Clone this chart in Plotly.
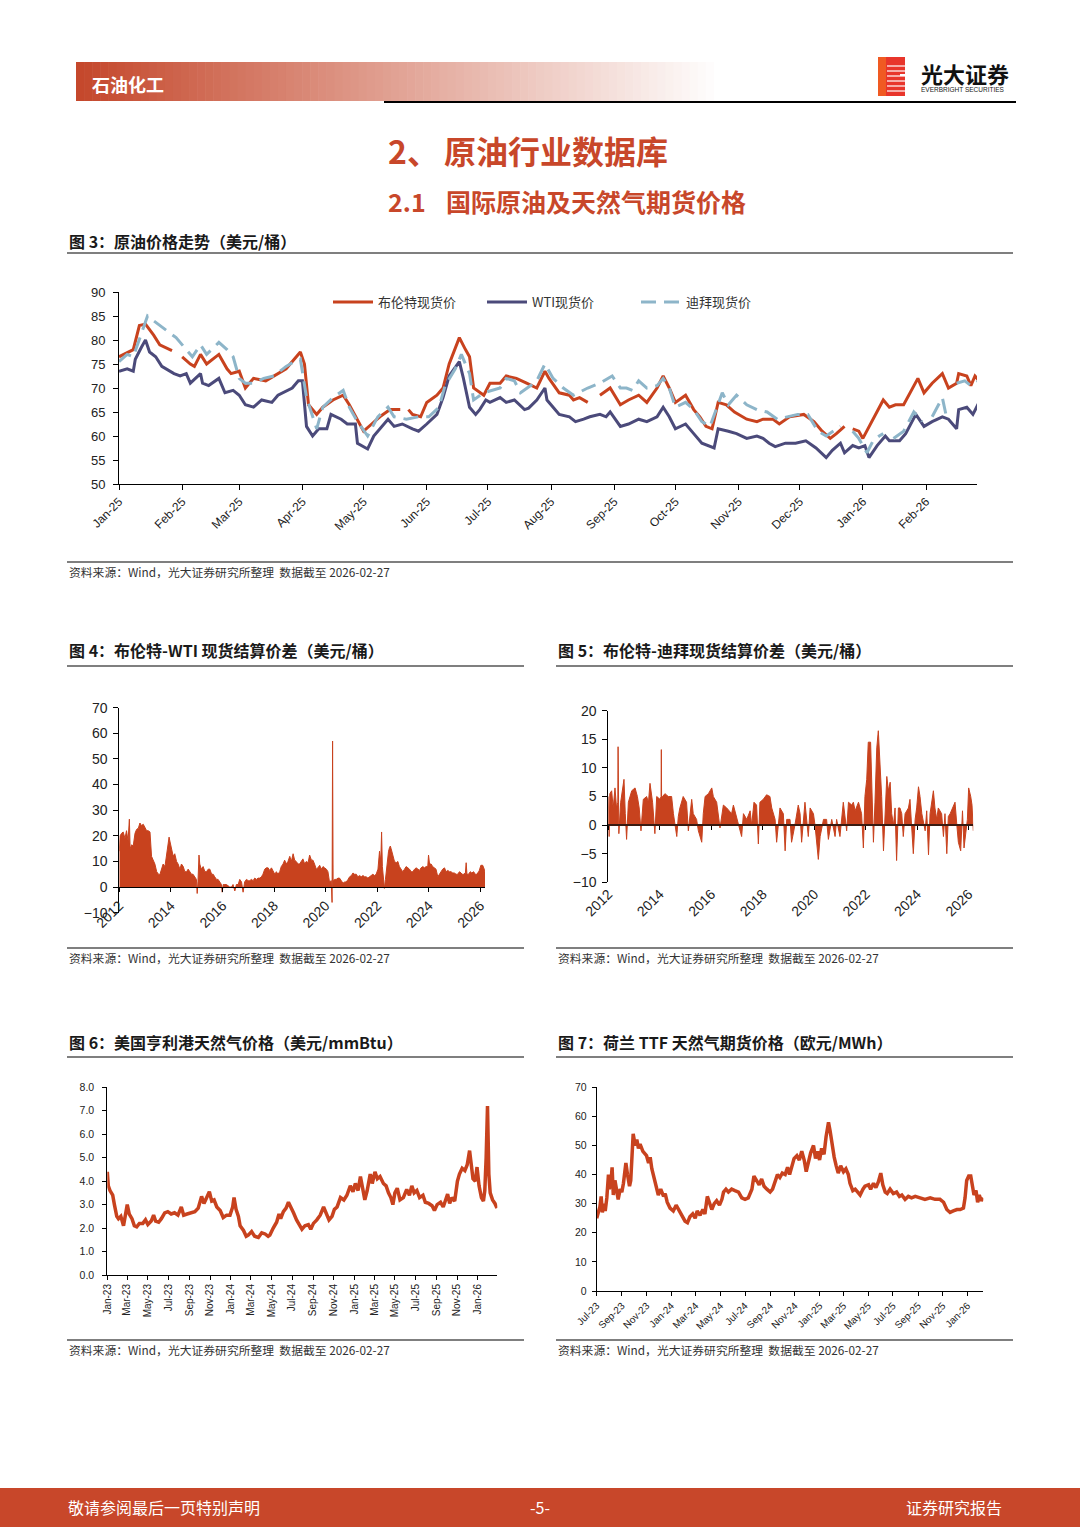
import plotly.graph_objects as go
import pandas as pd

# ---------------- data: 图3 原油价格走势 ----------------
brent_x = ["2025-01-01","2025-01-06","2025-01-08","2025-01-11","2025-01-14","2025-01-18","2025-01-21","2025-01-27","2025-01-29",
           "2025-02-01","2025-02-05","2025-02-07","2025-02-10","2025-02-13","2025-02-19","2025-02-23","2025-02-25",
           "2025-03-01","2025-03-04","2025-03-08","2025-03-14","2025-03-24","2025-03-28","2025-03-31",
           "2025-04-02","2025-04-04","2025-04-08","2025-04-11","2025-04-16","2025-04-21","2025-04-24","2025-04-27",
           "2025-05-01","2025-05-05","2025-05-09","2025-05-14","2025-05-19","2025-05-21","2025-05-23","2025-05-25","2025-05-29",
           "2025-06-01","2025-06-06","2025-06-09","2025-06-12","2025-06-17","2025-06-20","2025-06-22","2025-06-24","2025-06-29",
           "2025-07-02","2025-07-07","2025-07-10","2025-07-15","2025-07-20","2025-07-25","2025-07-29","2025-07-31",
           "2025-08-05","2025-08-10","2025-08-12","2025-08-15","2025-08-19","2025-08-21","2025-08-25","2025-08-30",
           "2025-09-04","2025-09-08","2025-09-13","2025-09-17","2025-09-22","2025-09-25","2025-09-28",
           "2025-10-01","2025-10-06","2025-10-10","2025-10-13","2025-10-16","2025-10-19","2025-10-22","2025-10-26","2025-10-30",
           "2025-11-05","2025-11-10","2025-11-13","2025-11-18","2025-11-21","2025-11-26",
           "2025-12-03","2025-12-08","2025-12-12","2025-12-16","2025-12-19","2025-12-23","2025-12-25","2025-12-27","2025-12-30",
           "2026-01-01","2026-01-04","2026-01-08","2026-01-11","2026-01-14","2026-01-17","2026-01-21","2026-01-24","2026-01-28","2026-01-31",
           "2026-02-04","2026-02-09","2026-02-12","2026-02-16","2026-02-17","2026-02-21","2026-02-23","2026-02-25","2026-02-27"]
brent_y = [76.5,77.5,78.0,83.0,83.3,81.0,79.0,77.8,None,
           76.5,75.0,74.5,77.0,75.0,77.0,74.0,73.0,
           73.5,70.0,72.0,71.5,74.0,76.0,77.5,
           75.0,66.5,64.5,66.0,67.5,68.5,66.5,64.0,
           61.0,62.5,64.0,65.5,65.5,None,65.5,64.5,64.0,
           67.0,68.5,70.0,75.0,80.5,78.0,76.5,70.0,68.5,
           71.0,71.0,72.5,72.0,71.0,70.0,73.5,72.0,
           69.0,68.5,67.5,68.0,67.0,None,68.5,70.0,
           66.5,67.5,68.5,67.0,70.0,72.5,70.0,
           67.0,68.5,65.5,64.0,62.0,61.5,67.0,66.5,65.0,
           63.5,63.0,63.5,63.5,62.5,64.0,
           64.5,63.0,61.0,59.5,60.5,62.0,None,61.5,61.0,
           59.5,62.0,65.0,67.5,66.0,66.5,66.5,69.0,72.0,69.0,
           71.0,73.0,70.0,71.0,73.0,72.5,70.5,72.5,71.5]

wti_x = ["2025-01-01","2025-01-05","2025-01-08","2025-01-09","2025-01-12","2025-01-14","2025-01-16","2025-01-19","2025-01-22","2025-01-28","2025-01-31",
         "2025-02-03","2025-02-05","2025-02-10","2025-02-11","2025-02-14","2025-02-19","2025-02-22","2025-02-26",
         "2025-03-01","2025-03-04","2025-03-08","2025-03-12","2025-03-17","2025-03-20","2025-03-27","2025-03-30",
         "2025-04-01","2025-04-03","2025-04-06","2025-04-09","2025-04-13","2025-04-15","2025-04-20","2025-04-23","2025-04-27","2025-04-28",
         "2025-05-03","2025-05-06","2025-05-10","2025-05-13","2025-05-16","2025-05-20","2025-05-25","2025-05-28",
         "2025-06-01","2025-06-06","2025-06-09","2025-06-12","2025-06-17","2025-06-19","2025-06-22","2025-06-25","2025-06-27","2025-06-30",
         "2025-07-02","2025-07-07","2025-07-10","2025-07-14","2025-07-19","2025-07-21","2025-07-25","2025-07-29","2025-07-30",
         "2025-08-01","2025-08-05","2025-08-10","2025-08-13","2025-08-17","2025-08-20","2025-08-25","2025-08-28","2025-08-30",
         "2025-09-04","2025-09-08","2025-09-13","2025-09-17","2025-09-22","2025-09-25","2025-09-28",
         "2025-10-01","2025-10-06","2025-10-10","2025-10-14","2025-10-20","2025-10-22","2025-10-27","2025-10-31",
         "2025-11-05","2025-11-10","2025-11-13","2025-11-16","2025-11-19","2025-11-24","2025-11-29",
         "2025-12-04","2025-12-09","2025-12-14","2025-12-17","2025-12-21","2025-12-23","2025-12-27","2025-12-30",
         "2026-01-02","2026-01-04","2026-01-08","2026-01-12","2026-01-14","2026-01-19","2026-01-22","2026-01-27","2026-01-31",
         "2026-02-04","2026-02-09","2026-02-12","2026-02-16","2026-02-17","2026-02-21","2026-02-24","2026-02-27"]
wti_y = [73.5,74.0,73.5,76.0,78.5,80.0,77.5,76.5,74.5,73.0,72.5,
         73.0,71.0,73.0,71.0,70.5,72.0,69.0,69.5,
         68.5,66.5,66.0,67.5,67.0,68.5,70.0,71.5,
         71.5,62.0,60.0,61.5,61.5,64.5,63.5,62.5,62.5,58.5,
         57.3,60.0,62.0,63.5,62.0,62.5,61.5,61.0,
         62.5,64.5,68.0,72.5,75.5,72.0,66.0,64.5,65.5,67.5,
         67.0,68.0,67.0,67.5,65.5,65.8,67.5,70.0,67.5,
         66.5,64.5,64.0,63.0,63.5,64.0,64.5,64.0,65.0,
         62.0,62.5,63.5,63.0,64.0,66.0,64.0,
         61.5,62.5,60.5,58.5,57.5,61.5,61.0,60.5,
         59.5,60.0,59.5,58.5,57.8,58.5,58.5,
         59.0,57.5,55.5,57.0,58.5,56.5,58.0,57.5,
         58.0,55.5,58.0,60.0,59.0,59.0,60.5,64.5,62.0,
         63.0,64.0,63.5,61.5,65.5,66.0,64.5,67.0]

dubai_x = ["2025-01-01","2025-01-05","2025-01-08","2025-01-11","2025-01-15","2025-01-18","2025-01-21","2025-01-24","2025-01-29",
           "2025-02-03","2025-02-06","2025-02-10","2025-02-13","2025-02-19","2025-02-23","2025-02-26",
           "2025-03-01","2025-03-04","2025-03-08","2025-03-13","2025-03-18","2025-03-24","2025-03-28","2025-03-31",
           "2025-04-03","2025-04-08","2025-04-11","2025-04-16","2025-04-21","2025-04-24","2025-04-28",
           "2025-05-03","2025-05-08","2025-05-13","2025-05-16","2025-05-22","2025-05-28",
           "2025-06-02","2025-06-07","2025-06-10","2025-06-15","2025-06-18","2025-06-22","2025-06-24","2025-06-29",
           "2025-07-07","2025-07-10","2025-07-14","2025-07-17","2025-07-22","2025-07-25","2025-07-29",
           "2025-08-02","2025-08-07","2025-08-12","2025-08-19","2025-08-25","2025-08-31",
           "2025-09-04","2025-09-07","2025-09-10","2025-09-13","2025-09-17","2025-09-22","2025-09-25","2025-09-28",
           "2025-10-01","2025-10-06","2025-10-10","2025-10-14","2025-10-18","2025-10-24","2025-10-27","2025-10-31",
           "2025-11-05","2025-11-10","2025-11-15","2025-11-20","2025-11-25","2025-11-30",
           "2025-12-05","2025-12-10","2025-12-14","2025-12-21","2025-12-24","2025-12-27","2025-12-30",
           "2026-01-03","2026-01-06","2026-01-09","2026-01-11","2026-01-13","2026-01-16","2026-01-21","2026-01-26","2026-01-30",
           "2026-02-02","2026-02-04","2026-02-09","2026-02-11","2026-02-13","2026-02-16","2026-02-20","2026-02-23","2026-02-27"]
dubai_y = [75.5,77.0,76.5,80.0,85.0,84.0,83.0,82.0,80.5,
           78.0,76.5,79.0,77.0,79.5,78.0,76.5,
           72.0,71.0,71.0,72.0,72.5,74.5,75.5,76.0,
           68.0,61.5,66.0,68.0,69.5,66.0,63.0,
           60.0,64.0,66.0,64.0,63.5,64.0,
           64.0,66.0,70.5,74.0,77.0,73.0,67.5,69.0,
           70.0,72.0,71.5,69.0,70.5,71.5,75.0,
           72.0,70.0,68.5,70.0,71.0,72.5,
           70.0,70.0,69.5,71.5,70.0,70.5,72.0,70.0,
           66.0,67.0,65.5,63.0,62.0,69.0,66.5,68.5,
           66.5,65.5,65.0,63.5,64.0,64.5,
           64.5,61.0,60.0,62.0,None,61.0,59.5,
           56.5,59.0,60.0,60.5,None,59.5,61.0,65.0,63.0,
           None,64.0,68.0,64.0,None,71.0,71.5,70.5,71.5]

# ---------------- data: 图4 布伦特-WTI 价差 ----------------
bw_year = [2012.00,2012.03,2012.09,2012.15,2012.22,2012.28,2012.34,2012.39,2012.42,2012.48,2012.54,2012.61,2012.67,2012.74,2012.80,2012.86,2012.93,
           2013.00,2013.06,2013.12,2013.19,2013.25,2013.32,2013.38,2013.45,2013.52,2013.57,2013.64,2013.70,2013.77,2013.83,2013.88,2013.93,2013.96,
           2014.03,2014.09,2014.15,2014.22,2014.28,2014.35,2014.41,2014.48,2014.54,2014.61,2014.67,2014.74,2014.80,2014.86,2014.92,2014.99,
           2015.02,2015.05,2015.09,2015.12,2015.18,2015.25,2015.32,2015.38,2015.45,2015.51,2015.58,2015.64,2015.70,2015.77,2015.83,2015.90,2015.96,2015.99,
           2016.03,2016.09,2016.15,2016.22,2016.28,2016.35,2016.41,2016.48,2016.54,2016.61,2016.67,2016.74,2016.80,2016.86,2016.93,
           2017.00,2017.06,2017.12,2017.19,2017.25,2017.32,2017.38,2017.45,2017.51,2017.57,2017.64,2017.70,2017.77,2017.83,2017.90,2017.96,
           2018.03,2018.09,2018.15,2018.22,2018.28,2018.35,2018.41,2018.48,2018.54,2018.61,2018.67,2018.74,2018.80,2018.86,2018.93,2018.99,
           2019.06,2019.12,2019.19,2019.25,2019.32,2019.38,2019.45,2019.51,2019.57,2019.64,2019.70,2019.77,2019.83,2019.90,2019.96,
           2020.03,2020.09,2020.15,2020.22,2020.25,2020.27,2020.29,2020.35,2020.41,2020.48,2020.54,2020.61,2020.67,2020.74,2020.80,2020.87,2020.93,
           2021.00,2021.06,2021.12,2021.19,2021.25,2021.32,2021.38,2021.45,2021.51,2021.57,2021.64,2021.70,2021.77,2021.83,2021.90,2021.96,
           2022.03,2022.09,2022.14,2022.17,2022.20,2022.24,2022.28,2022.32,2022.38,2022.44,2022.48,2022.51,2022.54,2022.61,2022.67,2022.74,2022.80,2022.86,2022.93,2022.99,
           2023.06,2023.12,2023.19,2023.25,2023.32,2023.38,2023.45,2023.51,2023.58,2023.64,2023.70,2023.77,2023.83,2023.90,2023.96,2023.99,
           2024.03,2024.09,2024.15,2024.22,2024.28,2024.35,2024.41,2024.48,2024.54,2024.61,2024.67,2024.74,2024.80,2024.86,2024.93,2024.99,
           2025.06,2025.12,2025.19,2025.25,2025.30,2025.35,2025.42,2025.45,2025.48,2025.54,2025.61,2025.67,2025.74,2025.80,2025.87,2025.93,2025.96,
           2026.02,2026.09,2026.15,2026.18]
bw_val = [14,20,21,21.5,19,22,18,26.5,15,16.5,16,21,22.5,23,25,24,24.5,
          23,22,22,21.5,12,10,9,6,5,4.8,7,9,8,12,16,19.5,18,
          15,12,13,10,9,7,9,8,6,6,7,6,5,5,4,3,
          -2.5,2,12.5,9,7,8,6,6,7,7,5,5,4,3,3,2,1,-2,
          1,1,1,0.5,0,0,1,-1.5,1,1,3,2,-2,2,3,
          2.5,2.5,3,2.5,3.5,3,3.5,3.5,4,5,7,7.5,7.5,6.5,7.5,6,
          5,6,5,6,8,9,10.5,9,10,12,10,13,10.5,10,9,9,
          10,11,9,10,9.5,12.5,10.5,10.5,9,7,7.5,8.5,7,8,7.5,
          7,6,2,2.5,-6,57,2.5,3,3,3.5,3.5,2.5,1.5,2,2,3,4,
          4.5,5.5,5,5,4,4.5,4,4.5,4,4,3.5,4,4.5,5,4.5,5,
          7,14,10,21.5,8,2,-0.5,3,10,14,15.5,16,15,12,10,9.5,10,8,7,6,
          7,8,7.5,7,6,6,7,7.5,7,6.5,7.5,8,7.5,8,8,12.5,
          9,9,8,7.5,7,4,5,6,7,7.5,6,6.5,6,6,5.5,5.5,
          5,5,6,5.5,5,5,5.5,9.5,5,5,6,5.5,6,5,5,6,6.5,
          8.5,8.5,7,6]

# ---------------- data: 图5 布伦特-迪拜 价差 ----------------
bd_year = [2012.00,2012.03,2012.06,2012.13,2012.19,2012.26,2012.32,2012.37,2012.38,2012.39,2012.41,2012.48,2012.56,2012.61,2012.66,2012.71,2012.78,2012.85,2012.91,
           2013.04,2013.13,2013.20,2013.27,2013.36,2013.49,2013.56,2013.62,2013.72,2013.81,2013.88,
           2014.01,2014.05,2014.06,2014.07,2014.11,2014.20,2014.33,2014.46,2014.53,2014.59,2014.66,2014.72,2014.78,2014.91,
           2015.04,2015.11,2015.24,2015.30,2015.43,2015.50,2015.56,2015.63,2015.69,2015.76,2015.89,
           2016.02,2016.08,2016.21,2016.34,2016.47,2016.60,2016.79,2016.86,2016.92,
           2017.05,2017.18,2017.25,2017.38,2017.51,2017.57,2017.66,2017.76,2017.83,2017.89,
           2018.02,2018.15,2018.28,2018.35,2018.48,2018.54,2018.67,2018.80,2018.87,2018.93,
           2019.06,2019.12,2019.25,2019.38,2019.45,2019.51,2019.64,2019.71,2019.77,2019.84,2019.97,
           2020.03,2020.10,2020.16,2020.23,2020.36,2020.48,2020.55,2020.68,2020.81,2020.87,
           2021.00,2021.13,2021.20,2021.26,2021.33,2021.46,2021.52,2021.59,2021.72,2021.84,2021.91,2021.97,
           2022.04,2022.10,2022.19,2022.26,2022.30,2022.36,2022.43,2022.49,2022.56,2022.62,2022.69,2022.75,2022.82,2022.88,2022.95,
           2023.01,2023.08,2023.14,2023.20,2023.27,2023.33,2023.40,2023.46,2023.53,2023.66,2023.72,2023.85,2023.92,2023.98,
           2024.05,2024.11,2024.18,2024.31,2024.37,2024.44,2024.50,2024.63,2024.69,2024.76,2024.82,2024.95,
           2025.02,2025.08,2025.15,2025.21,2025.28,2025.41,2025.47,2025.54,2025.60,2025.69,2025.76,2025.82,2025.89,2025.95,
           2026.00,2026.08,2026.13,2026.18]
bd_val = [5,-2,5.5,6,3,6.5,3,4,13.7,3,-1.5,4,6,8,2,-2.5,4,5,6,
          6.5,5,3,-1,4.5,5,4,7.3,4,-1.5,5,
          4.5,5,13.2,5,5,5.5,5,5,2,0,-2,1.5,3,5,
          4,-1,4.5,2,1,-1,-2,-3,2,5,5.5,
          6.5,5,4,-0.5,3.5,3,2,3.5,2.5,
          0.5,-2,2,1,2.5,0,4,3.5,-3.3,4,
          4.5,5.3,5,3,1,-3,3,2,-4.5,1,
          1,-3,0,3.5,2,-3,4,1,-2,3,2,
          0,-3,-6,-2,1,1,-2.5,1,-2,1,
          -2,4,1,-1,4,3.5,4,2.5,4,2,-4,5,
          8,14.5,14.5,4,-3,4,13.5,16.5,10,5,-4.5,2,8.5,6,7.5,
          2,0,3,-6.2,3,3,2,-2,2,3,4.5,-5,1,3,
          6.7,5,2,-1,2.5,-5.2,2,6,3,1,3,2,
          -2,2,-5,1.5,2,3.5,4,0,-3,-4.5,2.5,-4,-1,1,
          6.5,5,3.5,-1]
spread_ticks = [2012, 2014, 2016, 2018, 2020, 2022, 2024, 2026]

# ---------------- data: 图6 美国亨利港天然气价格 ----------------
hh_x = ["2023-01-01","2023-01-04","2023-01-09","2023-01-17","2023-01-22","2023-01-29","2023-02-03","2023-02-10","2023-02-18","2023-02-25",
        "2023-03-01","2023-03-07","2023-03-15","2023-03-22","2023-03-29","2023-04-06","2023-04-16","2023-04-24","2023-05-01","2023-05-11",
        "2023-05-18","2023-05-24","2023-06-02","2023-06-10","2023-06-20","2023-06-29","2023-07-09","2023-07-19","2023-07-29","2023-08-08",
        "2023-08-15","2023-08-25","2023-09-07","2023-09-17","2023-09-27","2023-10-07","2023-10-14","2023-10-22","2023-10-30","2023-11-06",
        "2023-11-13","2023-11-21","2023-12-01","2023-12-10","2023-12-20","2023-12-30","2024-01-07","2024-01-11","2024-01-17","2024-01-24",
        "2024-01-29","2024-02-08","2024-02-16","2024-02-22","2024-03-03","2024-03-12","2024-03-23","2024-04-02","2024-04-12","2024-04-21",
        "2024-04-26","2024-05-06","2024-05-16","2024-05-23","2024-05-28","2024-06-05","2024-06-13","2024-06-20","2024-06-27","2024-07-05",
        "2024-07-14","2024-07-24","2024-07-30","2024-08-08","2024-08-18","2024-08-25","2024-09-02","2024-09-12","2024-09-22","2024-10-02",
        "2024-10-12","2024-10-18","2024-10-27","2024-11-03","2024-11-11","2024-11-21","2024-12-01","2024-12-10","2024-12-20","2024-12-28",
        "2025-01-04","2025-01-12","2025-01-19","2025-01-24","2025-02-01","2025-02-08","2025-02-17","2025-02-23","2025-03-03","2025-03-10",
        "2025-03-18","2025-03-28","2025-04-05","2025-04-12","2025-04-19","2025-04-25","2025-05-01","2025-05-08","2025-05-16","2025-05-26",
        "2025-06-05","2025-06-13","2025-06-20","2025-06-27","2025-07-05","2025-07-13","2025-07-23","2025-07-30","2025-08-09","2025-08-19",
        "2025-08-26","2025-09-03","2025-09-13","2025-09-21","2025-09-28","2025-10-04","2025-10-10","2025-10-17","2025-10-25","2025-11-02",
        "2025-11-08","2025-11-16","2025-11-24","2025-12-01","2025-12-08","2025-12-13","2025-12-18","2025-12-25","2025-12-30","2026-01-05",
        "2026-01-12","2026-01-18","2026-01-22","2026-01-26","2026-01-30","2026-02-03","2026-02-07","2026-02-14","2026-02-21","2026-02-27"]
hh_y = [4.4,3.8,3.6,3.4,3.0,2.5,2.4,2.5,2.1,2.6,
        3.0,2.6,2.4,2.1,2.05,2.2,2.2,2.35,2.15,2.3,
        2.55,2.3,2.25,2.4,2.65,2.7,2.6,2.65,2.55,2.9,
        2.55,2.6,2.65,2.7,2.85,3.35,3.05,3.3,3.55,3.15,
        3.2,2.9,2.75,2.45,2.55,2.55,2.9,3.3,2.8,2.5,
        2.1,1.9,1.65,1.7,1.85,1.65,1.6,1.8,1.75,1.65,
        1.7,2.0,2.25,2.6,2.4,2.7,2.85,3.1,2.85,2.65,
        2.35,2.1,1.95,2.1,2.15,1.95,2.2,2.35,2.55,2.9,
        2.55,2.35,2.5,2.8,2.9,3.3,3.2,3.4,3.8,3.55,
        3.9,3.6,4.2,3.8,3.2,3.6,4.3,3.9,4.4,4.1,
        4.2,3.9,3.8,3.5,3.3,3.0,3.5,3.7,3.2,3.3,
        3.65,3.4,3.8,3.5,3.6,3.3,3.4,3.1,3.05,2.95,
        2.75,3.0,3.1,2.9,3.2,3.45,3.05,3.3,3.15,4.0,
        4.3,4.55,4.45,4.7,5.3,4.6,4.1,4.0,4.6,3.8,
        3.3,3.15,3.6,5.0,7.2,4.3,3.5,3.2,3.05,2.85]

# ---------------- data: 图7 荷兰 TTF 天然气期货价格 ----------------
TTF_START = "2023-07-17"
ttf_day = [0,4,8,11,14,18,21,25,29,31,35,38,41,45,49,53,58,62,66,72,76,81,84,86,90,95,99,103,107,114,
           119,123,128,132,136,140,146,152,158,165,169,174,181,189,196,202,210,218,224,230,237,243,248,255,262,267,273,278,284,290,
           296,303,309,313,319,325,333,341,350,358,366,374,383,388,395,401,407,413,420,428,434,440,446,452,458,465,471,476,481,487,
           494,500,506,512,517,522,528,535,540,545,550,555,561,566,572,576,580,586,591,596,602,609,615,621,625,632,638,643,650,657,
           662,671,676,683,689,695,701,706,712,717,724,732,740,747,753,761,769,777,786,798,810,823,835,847,856,864,872,880,889,897,
           905,909,913,918,923,928,931,936,940,944,949,954]
ttf_val = [25,27,29,32.5,27,30,27.5,32,40,35,37,42.5,33,38,34,31.5,35,34,37,44,40,36,38,45,54,50,52,49,50.5,48,
           47,46.5,44,46,42,40,36,33,35,32.5,33.5,30.5,28.5,27.5,29.5,28,26,24,23.5,25.5,26.5,25,27.5,26,28,26.5,32.5,30,28,30,
           31,29.5,31.5,34,35,34,35,34.5,34,32,31.5,32,35,39.5,38,36.5,38.5,36,35,34,35,38,40,39,40.5,40,42.5,40,43,45.5,
           46.5,45,48,45,41,44,47.5,50,45.5,48,45,49,47,53,58,55,51,46,43,40.5,43,41,42,40,37,34.5,35,34,33,35,
           36,36.5,35,37,35.5,37.5,40.5,36.5,34,33.5,35,33.5,34,32.5,33,31.5,32.5,32,32.5,32,31.5,32,31.5,31.5,30.5,28,27,27.5,28,28,
           28.5,32,38,39.5,39.5,35.5,33,34.5,30.5,33,31,32]

# ---------------- styling ----------------
W, H = 1080, 1527
def px(x): return x / W
def py(y): return 1 - y / H

RED = "#C8421E"
NAVY = "#4B4A7A"
LBLUE = "#8DB5C9"
TRED = "#C8472A"
CJK = "Noto Sans CJK SC"
LAT = "Liberation Sans, Arial, Noto Sans CJK SC"

fig = go.Figure()

# Chart 3
fig.add_trace(go.Scatter(x=brent_x, y=brent_y, name="布伦特现货价", mode="lines",
                         line=dict(color=RED, width=3), xaxis="x", yaxis="y", connectgaps=False))
fig.add_trace(go.Scatter(x=wti_x, y=wti_y, name="WTI现货价", mode="lines",
                         line=dict(color=NAVY, width=3), xaxis="x", yaxis="y"))
fig.add_trace(go.Scatter(x=dubai_x, y=dubai_y, name="迪拜现货价", mode="lines",
                         line=dict(color=LBLUE, width=3, dash="15px,8px"), xaxis="x", yaxis="y", connectgaps=False))
# Chart 4
fig.add_trace(go.Scatter(x=bw_year, y=bw_val, mode="lines", fill="tozeroy", fillcolor=RED,
                         line=dict(color=RED, width=1), xaxis="x2", yaxis="y2", showlegend=False))
fig.add_trace(go.Scatter(x=[2012], y=[None], mode="lines", xaxis="x6", yaxis="y2", showlegend=False, hoverinfo="skip"))
# Chart 5
fig.add_trace(go.Scatter(x=bd_year, y=bd_val, mode="lines", fill="tozeroy", fillcolor=RED,
                         line=dict(color=RED, width=1), xaxis="x3", yaxis="y3", showlegend=False))
fig.add_trace(go.Scatter(x=[2012], y=[None], mode="lines", xaxis="x7", yaxis="y3", showlegend=False, hoverinfo="skip"))
# Chart 6
fig.add_trace(go.Scatter(x=hh_x, y=hh_y, mode="lines", line=dict(color=RED, width=3.5),
                         xaxis="x4", yaxis="y4", showlegend=False))
# Chart 7
ttf_x = [pd.Timestamp(TTF_START) + pd.Timedelta(days=d) for d in ttf_day]
fig.add_trace(go.Scatter(x=ttf_x, y=ttf_val, mode="lines", line=dict(color=RED, width=3.5),
                         xaxis="x5", yaxis="y5", showlegend=False))

base_ax = dict(showgrid=False, zeroline=False, showline=True, linecolor="black", linewidth=1,
               ticks="outside", ticklen=5, tickcolor="black", automargin=False)

def ax(**kw):
    d = dict(base_ax)
    d.update(kw)
    return d

y4_dom = [py(912.7), py(707.7)]
y5_dom = [py(882.3), py(710.7)]
zero4 = y4_dom[0] + (0 - (-10)) / 80 * (y4_dom[1] - y4_dom[0])
zero5 = y5_dom[0] + (0 - (-10)) / 30 * (y5_dom[1] - y5_dom[0])

fig.update_layout(
    template="none",
    width=W, height=H, margin=dict(l=0, r=0, t=0, b=0, pad=0, autoexpand=False),
    paper_bgcolor="white", plot_bgcolor="white",
    font=dict(family=LAT, color="#222"),
    showlegend=True,
    legend=dict(orientation="h", x=px(328), y=py(302), xanchor="left", yanchor="middle",
                font=dict(family=CJK, size=13, color="#333"), bgcolor="rgba(0,0,0,0)",
                entrywidth=99, entrywidthmode="pixels", itemwidth=40),
    xaxis=ax(domain=[px(119), px(977)], anchor="y", type="date",
             range=["2025-01-01", "2026-02-26"], tick0="2025-01-01", dtick="M1",
             tickformat="%b-%y", tickangle=-45, tickfont=dict(family=LAT, size=12)),
    yaxis=ax(domain=[py(484), py(292)], anchor="x", range=[50, 90], dtick=5,
             ticklabelstandoff=5, tickfont=dict(family=LAT, size=13)),
    xaxis2=dict(domain=[px(119.3), px(485)], anchor="y2", range=[2012, 2026.18],
                showticklabels=False, showgrid=False, zeroline=False, showline=False, ticks="",
                automargin=False),
    xaxis6=dict(overlaying="x2", anchor="free", position=zero4, range=[2012, 2026.18],
                tickvals=spread_ticks, ticktext=[str(v) for v in spread_ticks], tickangle=-45,
                tickfont=dict(family=LAT, size=14), showgrid=False, zeroline=False, automargin=False,
                showline=True, linecolor="black", linewidth=1, ticks="outside", ticklen=4, tickcolor="black"),
    yaxis2=ax(domain=y4_dom, anchor="x2", range=[-10, 70], dtick=10, ticklabelstandoff=3,
              tickfont=dict(family=LAT, size=14)),
    xaxis3=dict(domain=[px(608.3), px(973.3)], anchor="y3", range=[2012, 2026.18],
                tickvals=spread_ticks, ticktext=[str(v) for v in spread_ticks], tickangle=-45,
                showgrid=False, zeroline=False, showline=False, ticks="", automargin=False,
                tickfont=dict(family=LAT, size=14)),
    xaxis7=dict(overlaying="x3", anchor="free", position=zero5, range=[2012, 2026.18],
                tickvals=spread_ticks, showticklabels=False, showgrid=False, zeroline=False, automargin=False,
                showline=True, linecolor="#3a1a10", linewidth=1.5, ticks="outside", ticklen=4, tickcolor="black"),
    yaxis3=ax(domain=y5_dom, anchor="x3", range=[-10, 20], dtick=5, ticklabelstandoff=3,
              tickfont=dict(family=LAT, size=14)),
    xaxis4=ax(domain=[px(107.3), px(497.3)], anchor="y4", type="date",
              range=["2023-01-01", "2026-02-28"], tick0="2023-01-01", dtick="M2",
              tickformat="%b-%y", tickangle=-90, ticklen=4, tickfont=dict(family=LAT, size=10)),
    yaxis4=ax(domain=[py(1275), py(1087.3)], anchor="x4", range=[0, 8], dtick=1, tickformat=".1f",
              ticklen=4, ticklabelstandoff=6, tickfont=dict(family=LAT, size=10.5)),
    xaxis5=ax(domain=[px(596.7), px(983.3)], anchor="y5", type="date",
              range=["2023-07-17", "2026-02-25"], tick0="2023-07-17", dtick="M2",
              tickformat="%b-%y", tickangle=-45, ticklen=4, tickfont=dict(family=LAT, size=10)),
    yaxis5=ax(domain=[py(1291), py(1087.3)], anchor="x5", range=[0, 70], dtick=10,
              ticklen=4, ticklabelstandoff=3, tickfont=dict(family=LAT, size=10.5)),
)

shapes = []
# header gradient bar
x0, x1 = 76, 722
n = 80
c0 = (197, 72, 44)
for i in range(n):
    t = i / (n - 1)
    r = int(c0[0] + (255 - c0[0]) * t)
    g = int(c0[1] + (255 - c0[1]) * t)
    b = int(c0[2] + (255 - c0[2]) * t)
    xa = x0 + (x1 - x0) * i / n
    xb = x0 + (x1 - x0) * (i + 1) / n + 0.6
    shapes.append(dict(type="rect", xref="paper", yref="paper", x0=px(xa), x1=px(xb), y0=py(101), y1=py(62),
                       fillcolor=f"rgb({r},{g},{b})", line=dict(width=0), layer="below"))
# header black rule
shapes.append(dict(type="line", xref="paper", yref="paper", x0=px(384), x1=px(1016), y0=py(102), y1=py(102),
                   line=dict(color="black", width=2)))
# logo block
shapes.append(dict(type="rect", xref="paper", yref="paper", x0=px(878), x1=px(905), y0=py(96), y1=py(57),
                   fillcolor="#E8352B", line=dict(width=0)))
shapes.append(dict(type="rect", xref="paper", yref="paper", x0=px(878), x1=px(886), y0=py(96), y1=py(57),
                   fillcolor="#F05A22", line=dict(width=0)))
for yy in [66, 71, 76, 81, 86, 91]:
    shapes.append(dict(type="line", xref="paper", yref="paper", x0=px(887), x1=px(905), y0=py(yy), y1=py(yy),
                       line=dict(color="white", width=1.2)))
shapes.append(dict(type="rect", xref="paper", yref="paper", x0=px(900), x1=px(906), y0=py(76), y1=py(74),
                   fillcolor="white", line=dict(width=0)))
# chart title rules and source rules
for (xa, xb, yy) in [(67, 1013, 253), (67, 1013, 562),
                     (67, 524, 666), (556, 1013, 666), (67, 524, 948), (556, 1013, 948),
                     (67, 524, 1057), (556, 1013, 1057), (67, 524, 1340), (556, 1013, 1340)]:
    shapes.append(dict(type="line", xref="paper", yref="paper", x0=px(xa), x1=px(xb), y0=py(yy), y1=py(yy),
                       line=dict(color="#555555", width=1.5)))
# footer bar
shapes.append(dict(type="rect", xref="paper", yref="paper", x0=0, x1=1, y0=0, y1=py(1488),
                   fillcolor="#C8472A", line=dict(width=0)))
fig.update_layout(shapes=shapes)

ann = []
def text(x, y, s, size, color="#222", anchor="left", bold=False, family=CJK):
    ann.append(dict(xref="paper", yref="paper", x=px(x), y=py(y), text=s, showarrow=False,
                    xanchor=anchor, yanchor="middle",
                    font=dict(family=family, size=size, color=color, weight="bold" if bold else "normal")))

text(90, 84, "石油化工", 18, "white", bold=True)
text(919, 73, "光大证券", 22, "#111", bold=True)
text(919, 90, "EVERBRIGHT SECURITIES", 6.5, "#222", family=LAT)
text(386, 150, "2、", 32, TRED, bold=True)
text(442, 150, "原油行业数据库", 32, TRED, bold=True)
text(386, 201, "2.1", 25, TRED, bold=True)
text(444, 201, "国际原油及天然气期货价格", 25, TRED, bold=True)

text(67, 241, "图 3：原油价格走势（美元/桶）", 16, "#1a1a1a", bold=True)
text(67, 650, "图 4：布伦特-WTI 现货结算价差（美元/桶）", 16, "#1a1a1a", bold=True)
text(556, 650, "图 5：布伦特-迪拜现货结算价差（美元/桶）", 16, "#1a1a1a", bold=True)
text(67, 1042, "图 6：美国亨利港天然气价格（美元/mmBtu）", 16, "#1a1a1a", bold=True)
text(556, 1042, "图 7：荷兰 TTF 天然气期货价格（欧元/MWh）", 16, "#1a1a1a", bold=True)

src = "资料来源：Wind，光大证券研究所整理  数据截至 2026-02-27"
for (xx, yy) in [(67, 571), (67, 957), (556, 957), (67, 1349), (556, 1349)]:
    text(xx, yy, src, 11.8, "#333")

text(66, 1507, "敬请参阅最后一页特别声明", 16, "white")
text(540, 1507, "-5-", 16, "white", anchor="center")
text(1004, 1507, "证券研究报告", 16, "white", anchor="right")

fig.update_layout(annotations=ann)
fig.write_html("out.html", config={"displayModeBar": False},
               post_script="document.body.style.margin='0px';document.body.style.padding='0px';"
                           "document.documentElement.style.margin='0px';")
